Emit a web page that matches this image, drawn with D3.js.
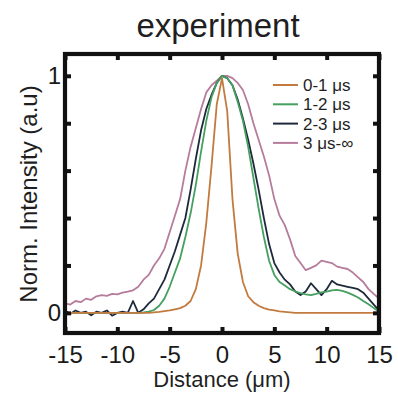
<!DOCTYPE html>
<html>
<head>
<meta charset="utf-8">
<script src="https://cdn.jsdelivr.net/npm/d3@7"></script>
<style>
  html, body { margin: 0; padding: 0; background: #fff; }
  svg { display: block; font-family: "Liberation Sans", Arial, sans-serif; }
</style>
</head>
<body>
<svg id="chart" width="398" height="394"></svg>
<script>
// sampling positions along the profile (um)
var distance = [-15, -14.5, -14, -13.5, -13, -12.5, -12, -11.5, -11, -10.5,
  -10, -9.5, -9, -8.5, -8, -7.5, -7, -6.5, -6, -5.5,
  -5, -4.5, -4, -3.5, -3, -2.5, -2, -1.5, -1, -0.5,
  0, 0.5, 1, 1.5, 2, 2.5, 3, 3.5, 4, 4.5,
  5, 5.5, 6, 6.5, 7, 7.5, 8, 8.5, 9, 9.5,
  10, 10.5, 11, 11.5, 12, 12.5, 13, 13.5, 14, 14.5, 15];

var seriesNames = ['0-1 \u03bcs', '1-2 \u03bcs', '2-3 \u03bcs', '3 \u03bcs-\u221e'];
var seriesColors = ['#c27a3e', '#45a060', '#1e2a3c', '#b67c9c'];

var win01 = [0, 0, 0, 0, 0, 0, 0, 0, 0, 0,
  0, 0, 0, 0, 0, 0, 0, 0.002, 0.004, 0.007,
  0.01, 0.015, 0.02, 0.03, 0.05, 0.1, 0.2, 0.38, 0.62, 0.88,
  0.99, 0.85, 0.48, 0.25, 0.13, 0.07, 0.045, 0.03, 0.02, 0.014,
  0.01, 0.006, 0.004, 0.002, 0, 0, 0, 0, 0, 0,
  0, 0, 0, 0, 0, 0, 0, 0, 0, 0, 0];

var win12 = [0, 0, 0, 0, 0, 0, 0, 0, 0, 0,
  0, 0, 0, 0, 0, 0.002, 0.005, 0.012, 0.03, 0.06,
  0.11, 0.17, 0.23, 0.32, 0.42, 0.54, 0.68, 0.81, 0.91, 0.97,
  1.0, 0.99, 0.96, 0.89, 0.81, 0.7, 0.57, 0.44, 0.32, 0.22,
  0.16, 0.13, 0.115, 0.1, 0.09, 0.083, 0.078, 0.075, 0.08, 0.086,
  0.09, 0.095, 0.097, 0.093, 0.085, 0.076, 0.065, 0.05, 0.036, 0.02, 0.005];

var win23 = [0.01, -0.005, 0.01, 0, 0.005, -0.01, 0.005, 0, 0.01, -0.012,
  0, 0.005, 0, 0.05, 0, 0.015, 0.04, 0.06, 0.1, 0.14,
  0.2, 0.26, 0.33, 0.4, 0.52, 0.65, 0.77, 0.86, 0.92, 0.97,
  1.0, 0.99, 0.96, 0.9, 0.82, 0.73, 0.63, 0.52, 0.4, 0.29,
  0.21, 0.17, 0.14, 0.12, 0.09, 0.075, 0.09, 0.125, 0.1, 0.075,
  0.1, 0.135, 0.12, 0.115, 0.11, 0.105, 0.1, 0.085, 0.06, 0.035, 0.01];

var win3inf = [0.04, 0.035, 0.05, 0.045, 0.06, 0.055, 0.07, 0.075, 0.072, 0.08,
  0.078, 0.085, 0.09, 0.095, 0.11, 0.14, 0.16, 0.2, 0.23, 0.27,
  0.34, 0.41, 0.48, 0.6, 0.7, 0.78, 0.86, 0.93, 0.96, 0.98,
  1.0, 1.0, 0.99, 0.97, 0.94, 0.88, 0.8, 0.73, 0.66, 0.58,
  0.48, 0.41, 0.37, 0.31, 0.24, 0.21, 0.18, 0.19, 0.2, 0.22,
  0.215, 0.21, 0.195, 0.19, 0.185, 0.17, 0.15, 0.13, 0.1, 0.08, 0.06];

var xTicks = [-15, -10, -5, 0, 5, 10, 15];
var yTicks = [0, 0.2, 0.4, 0.6, 0.8, 1];
var yTickLabels = {0: '0', 1: '1'};

var seriesValues = [win01, win12, win23, win3inf];

var svg = d3.select('#chart');
var box = {left: 65, right: 379, top: 54, bottom: 333};

var x = d3.scaleLinear().domain([-15, 15]).range([box.left, box.right]);
var y = d3.scaleLinear().domain([-0.085, 1.092]).range([box.bottom, box.top]);

svg.append('defs').append('clipPath').attr('id', 'plotclip')
  .append('rect')
  .attr('x', box.left).attr('y', box.top)
  .attr('width', box.right - box.left).attr('height', box.bottom - box.top);

// curves, widest first so the narrow one sits on top
var line = d3.line()
  .x(function(d) { return x(d[0]); })
  .y(function(d) { return y(d[1]); });

var curves = svg.append('g').attr('clip-path', 'url(#plotclip)');
[3, 2, 1, 0].forEach(function(i) {
  var pts = distance.map(function(d, k) { return [d, seriesValues[i][k]]; });
  curves.append('path')
    .attr('d', line(pts))
    .attr('fill', 'none')
    .attr('stroke', seriesColors[i])
    .attr('stroke-width', 1.8)
    .attr('stroke-linejoin', 'round');
});

// axes with inward ticks
var fontTick = 24;
var gBottom = svg.append('g').attr('transform', 'translate(0,' + box.bottom + ')')
  .call(d3.axisBottom(x).tickValues(xTicks).tickSize(-6).tickPadding(13)
    .tickFormat(function(d) { return String(d); }));
var gTop = svg.append('g').attr('transform', 'translate(0,' + box.top + ')')
  .call(d3.axisTop(x).tickValues(xTicks).tickSize(-6).tickFormat(''));
var gLeft = svg.append('g').attr('transform', 'translate(' + box.left + ',0)')
  .call(d3.axisLeft(y).tickValues(yTicks).tickSize(-6).tickPadding(4)
    .tickFormat(function(d) { return yTickLabels[d] || ''; }));
var gRight = svg.append('g').attr('transform', 'translate(' + box.right + ',0)')
  .call(d3.axisRight(y).tickValues(yTicks).tickSize(-6).tickFormat(''));

[gBottom, gTop, gLeft, gRight].forEach(function(g) {
  g.select('.domain').remove();
  g.selectAll('.tick line').attr('stroke', '#111').attr('stroke-width', 4);
  g.selectAll('.tick text')
    .attr('font-size', fontTick)
    .attr('font-family', '"Liberation Sans", Arial, sans-serif')
    .attr('fill', '#1a1a1a');
});

svg.append('rect')
  .attr('x', box.left).attr('y', box.top)
  .attr('width', box.right - box.left).attr('height', box.bottom - box.top)
  .attr('fill', 'none')
  .attr('stroke', '#111')
  .attr('stroke-width', 4.2);

// title and axis labels
svg.append('text')
  .attr('x', 218).attr('y', 37)
  .attr('text-anchor', 'middle')
  .attr('font-size', 33)
  .attr('fill', '#1f1f1f')
  .text('experiment');

svg.append('text')
  .attr('x', 222).attr('y', 387)
  .attr('text-anchor', 'middle')
  .attr('font-size', 22)
  .attr('fill', '#1f1f1f')
  .text('Distance (\u03bcm)');

svg.append('text')
  .attr('transform', 'translate(37,194) rotate(-90)')
  .attr('text-anchor', 'middle')
  .attr('font-size', 24)
  .attr('fill', '#1f1f1f')
  .text('Norm. Intensity (a.u)');

// legend
var legend = svg.append('g');
seriesNames.forEach(function(name, i) {
  var cy = 85 + i * 19.3;
  legend.append('line')
    .attr('x1', 273).attr('x2', 298)
    .attr('y1', cy).attr('y2', cy)
    .attr('stroke', seriesColors[i])
    .attr('stroke-width', 2);
  legend.append('text')
    .attr('x', 303).attr('y', cy)
    .attr('dy', '0.35em')
    .attr('font-size', 17)
    .attr('fill', '#1f1f1f')
    .text(name);
});
</script>
</body>
</html>
